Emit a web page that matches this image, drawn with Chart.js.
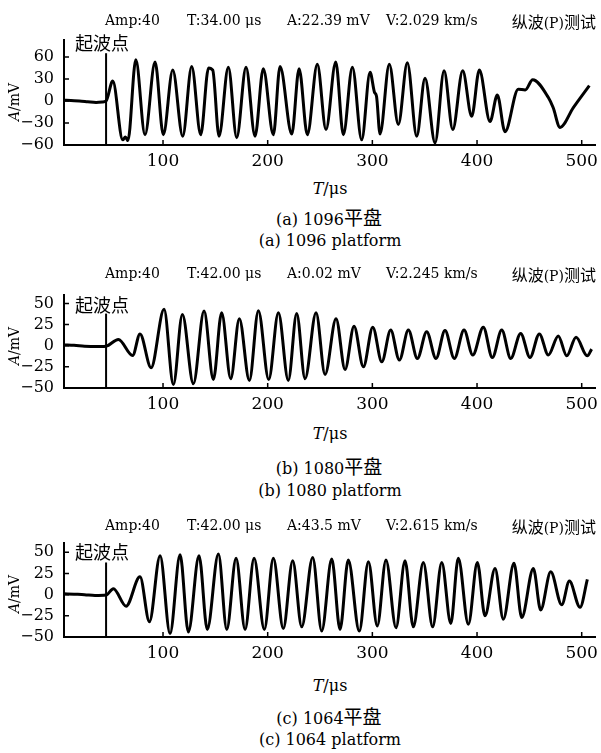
<!DOCTYPE html>
<html>
<head>
<meta charset="utf-8">
<script src="https://cdn.jsdelivr.net/npm/chart.js@4.4.1/dist/chart.umd.min.js"></script>
<style>
  html, body { margin: 0; padding: 0; background: #fff; }
  #page { position: relative; width: 601px; height: 753px; overflow: hidden; }
  canvas { position: absolute; left: 0; }
  .t { position: absolute; white-space: nowrap; line-height: 1; color: #000;
       font-family: "DejaVu Serif", "Noto Sans CJK SC", serif; }
  .cjk { font-family: "Noto Sans CJK SC", sans-serif; }
</style>
</head>
<body>
<div id="page">
  <canvas id="chartA"></canvas>
  <canvas id="chartB"></canvas>
  <canvas id="chartC"></canvas>
</div>
<script>
// ---- data ----
const xTicks = [100, 200, 300, 400, 500];
const yTicksA = [-60, -30, 0, 30, 60];
const yTicksBC = [-50, -25, 0, 25, 50];
const onsetT = 45.6;   // 起波点 (µs)

// (a) 1096 platform
const timeA = [5.4, 12, 20, 28, 36, 42, 45.6, 52, 61.5, 64, 66.5, 74, 82.8, 92.4, 100.3, 109.3, 118.8,
  127.4, 136, 143.5, 147.5, 153.5, 162.4, 170.4, 179.3, 187.9, 195.8, 205.4, 211.8, 223, 230, 237.9,
  247.4, 255.7, 265, 272.3, 280.9, 289.8, 297.8, 302, 304, 307.3, 316.2, 324.8, 333.4, 342.4, 350.3,
  359.9, 368.5, 376.8, 386.3, 394.9, 402.2, 412.4, 419.4, 426.7, 439.4, 446, 453.2, 468, 472.7, 479.3,
  492, 507.3];
const ampA = [1, 0.5, 0, -1, -2, -1.5, 0, 27, -53, -49, -54, 56, -46, 53, -46, 42, -48,
  47, -46, 45, 42, -48, 46, -50, 46, -48, 44, -46, 47, -45, 44, -46,
  50, -39, 53, -46, 46, -53, 39, 12, 6, -45, 50, -32, 52, -48, 31,
  -57, 41, -39, 41, -21, 42, -28, 8, -42, 16, 15, 29, 5, -9, -36,
  -9, 21];

// (b) 1080 platform
const timeB = [5.4, 15, 25, 35, 45.6, 57.4, 71, 78, 88.6, 101, 109.9, 118.5, 129, 139.2, 148.1, 156,
  164.7, 172.9, 182.5, 191.1, 201, 210.2, 219.7, 227.7, 235.7, 246.2, 254.8, 265.3, 273.9, 282.5,
  291.4, 300.4, 309, 317.5, 325.8, 334.4, 343, 351.9, 360.8, 369.4, 378.3, 387.6, 395.9, 406, 414.6,
  423.6, 432.2, 441.7, 450.6, 459.5, 468.1, 477.6, 485.7, 494.6, 505.3, 509.5];
const ampB = [1, 0.5, -0.5, -1, -0.5, 7.5, -11.5, 14, -26, 43, -46, 37, -45, 41, -40, 39,
  -39, 32, -41, 41.5, -40, 39, -41, 38, -39, 39, -34, 32, -28, 23,
  -25, 22, -19, 18.5, -17, 18.5, -15, 16.6, -15, 18, -15, 18.5, -11, 22, -14,
  18.5, -15, 14.6, -14, 14, -11, 11.5, -12, 10, -12, -4];

// (c) 1064 platform
const timeC = [5.4, 15, 25, 35, 45.6, 52.6, 64.7, 78, 87, 97.2, 106.7, 116.3, 124.2, 134.4, 142.3,
  152.9, 160.9, 169.8, 178.4, 187, 196.8, 205.4, 214.9, 223.9, 232.5, 243, 251.6, 261.2, 269.1, 277,
  287.5, 296.2, 304.7, 313, 322.6, 331.2, 339.1, 348.7, 357.6, 366.3, 374.9, 382.1, 391.7, 400.3,
  407.6, 417.2, 425.1, 435.3, 442.7, 453.8, 460.8, 470.4, 480.9, 488.2, 498.4, 505.4];
const ampC = [1, 0.5, 0, -1, -0.5, 7, -13.6, 21, -32, 46, -46, 47, -44, 46, -41,
  48, -41, 43, -41, 43, -41, 43, -40, 40, -38, 44, -43, 42, -41, 41,
  -43, 39, -37, 41, -39, 40, -38, 38, -38, 38, -34, 43, -35, 38,
  -25, 31, -29, 37, -27, 31, -18, 27, -12, 16, -15, 18];

// inward tick marks + the onset line
const inwardTicks = {
  id: 'inwardTicks',
  afterDraw(chart, args, opts) {
    const { ctx, chartArea: a, scales: { x, y } } = chart;
    ctx.save();
    ctx.strokeStyle = '#000';
    ctx.lineWidth = 1.5;
    ctx.beginPath();
    x.ticks.forEach(t => {
      const px = x.getPixelForValue(t.value);
      ctx.moveTo(px, a.bottom);
      ctx.lineTo(px, a.bottom - 5);
    });
    y.ticks.forEach(t => {
      const py = y.getPixelForValue(t.value);
      ctx.moveTo(a.left, py);
      ctx.lineTo(a.left + 5, py);
    });
    ctx.stroke();
    const ox = x.getPixelForValue(opts.onset);
    ctx.lineWidth = 2;
    ctx.beginPath();
    ctx.moveTo(ox, a.bottom);
    ctx.lineTo(ox, y.getPixelForValue(opts.onsetTop));
    ctx.stroke();
    ctx.restore();
  }
};

function makePanel(id, top, height, times, amps, yTicks, yMin, yMax, onsetTop) {
  const el = document.getElementById(id);
  el.style.top = top + 'px';
  el.style.width = '601px';
  el.style.height = height + 'px';
  new Chart(el, {
    type: 'line',
    data: {
      datasets: [{
        data: times.map((t, i) => ({ x: t, y: amps[i] })),
        borderColor: '#000',
        borderWidth: 3,
        pointRadius: 0,
        cubicInterpolationMode: 'monotone',
        fill: false
      }]
    },
    options: {
      responsive: false,
      animation: false,
      devicePixelRatio: 1,
      layout: { padding: { top: 30, right: 6, left: 0, bottom: 0 } },
      plugins: {
        legend: { display: false },
        tooltip: { enabled: false },
        inwardTicks: { onset: onsetT, onsetTop: onsetTop }
      },
      scales: {
        x: {
          type: 'linear',
          min: 5.4,
          max: 512.7,
          grid: { display: false, drawTicks: false },
          border: { display: true, color: '#000', width: 2 },
          afterBuildTicks: s => { s.ticks = xTicks.map(v => ({ value: v })); },
          afterFit: s => { s.height = 30; s.paddingLeft = 0; s.paddingRight = 0; },
          ticks: {
            padding: 6,
            color: '#000',
            maxRotation: 0,
            font: { family: 'DejaVu Serif', size: 17 }
          }
        },
        y: {
          min: yMin,
          max: yMax,
          grid: { display: false, drawTicks: false },
          border: { display: true, color: '#000', width: 2 },
          afterBuildTicks: s => { s.ticks = yTicks.map(v => ({ value: v })); },
          afterFit: s => { s.width = 64; s.paddingTop = 0; s.paddingBottom = 0; },
          ticks: {
            padding: 10,
            color: '#000',
            font: { family: 'DejaVu Serif', size: 16 },
            callback: v => v < 0 ? '\u2212' + (-v) : String(v)
          }
        }
      }
    },
    plugins: [inwardTicks]
  });
}

// canvas top = axis top - 30, height = plot height + 60
makePanel('chartA', 10, 165, timeA, ampA, yTicksA, -60, 83, 65);
makePanel('chartB', 265, 153, timeB, ampB, yTicksBC, -50, 60, 38);
makePanel('chartC', 513, 154, timeC, ampC, yTicksBC, -50, 61, 38);

// ---- texts ----
const page = document.getElementById('page');
function put(html, x, yc, size, align, cls) {
  const d = document.createElement('div');
  d.className = 't' + (cls ? ' ' + cls : '');
  d.innerHTML = html;
  d.style.fontSize = size + 'px';
  d.style.top = (yc - size / 2) + 'px';
  if (align === 'center') { d.style.left = x + 'px'; d.style.transform = 'translateX(-50%)'; }
  else if (align === 'right') { d.style.right = (601 - x) + 'px'; }
  else { d.style.left = x + 'px'; }
  page.appendChild(d);
  return d;
}

const headerT = ['T:34.00 μs', 'T:42.00 μs', 'T:42.00 μs'];
const headerA = ['A:22.39 mV', 'A:0.02 mV', 'A:43.5 mV'];
const headerV = ['V:2.029 km/s', 'V:2.245 km/s', 'V:2.615 km/s'];
const captionCn = ['(a) 1096<span class="cjk" style="font-size:19px">平盘</span>',
                   '(b) 1080<span class="cjk" style="font-size:19px">平盘</span>',
                   '(c) 1064<span class="cjk" style="font-size:19px">平盘</span>'];
const captionEn = ['(a) 1096 platform', '(b) 1080 platform', '(c) 1064 platform'];

const headerY = [20, 273, 525];
const onsetLabelY = [42, 304, 551];
const yTitleY = [102, 346, 594];
const xTitleY = [189, 434, 686];
const cap1Y = [215, 464, 714];
const cap2Y = [241, 491, 740];

for (let i = 0; i < 3; i++) {
  put('Amp:40', 105, headerY[i], 14);
  put(headerT[i], 187, headerY[i], 14);
  put(headerA[i], 287, headerY[i], 14);
  put(headerV[i], 386, headerY[i], 14);
  put('<span class="cjk" style="font-size:16px">纵波</span>(P)<span class="cjk" style="font-size:16px">测试</span>',
      596, headerY[i], 14, 'right');
  put('起波点', 75, onsetLabelY[i], 18, 'left', 'cjk');
  const yt = put('<i>A</i>/mV', 14, yTitleY[i], 14, 'center');
  yt.style.transform = 'translateX(-50%) rotate(-90deg)';
  put('<i>T</i>/μs', 330, xTitleY[i], 16, 'center');
  put(captionCn[i], 329, cap1Y[i], 16, 'center');
  put(captionEn[i], 330, cap2Y[i], 16, 'center');
}
</script>
</body>
</html>
